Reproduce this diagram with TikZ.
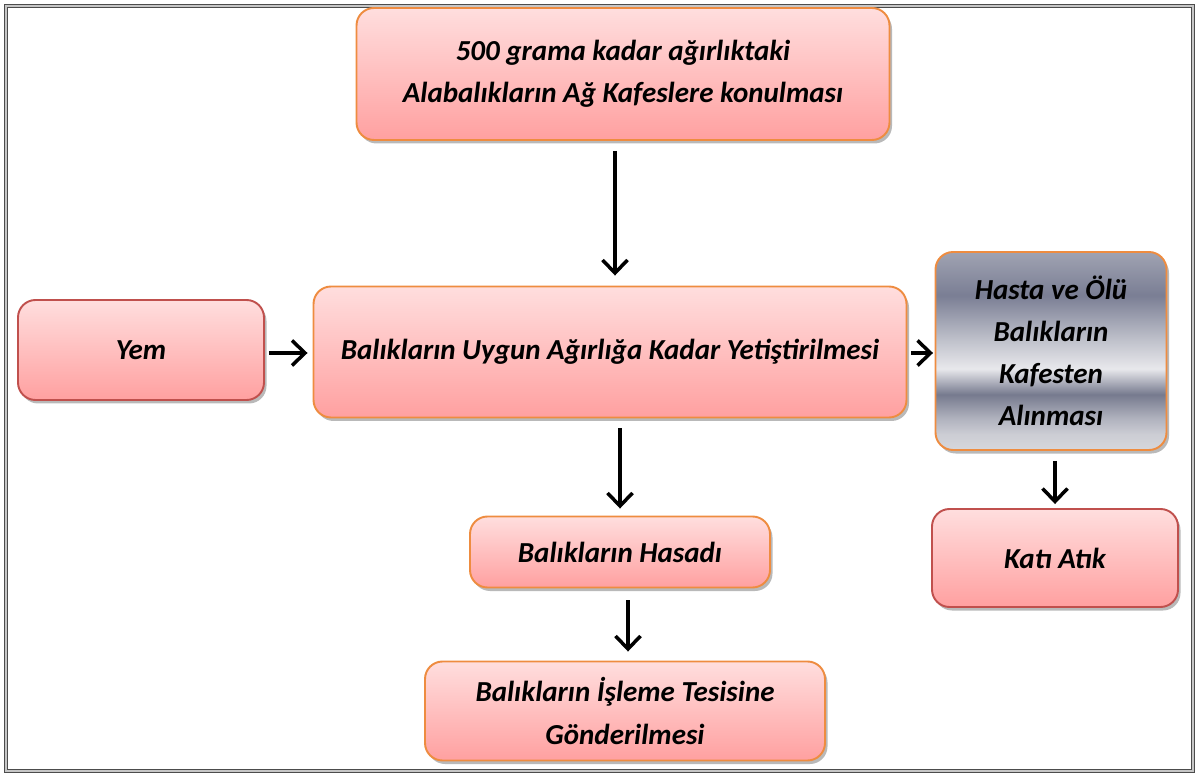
\documentclass[tikz,border=0pt]{standalone}
\usepackage{fontspec}
\setmainfont{Carlito}
\usetikzlibrary{arrows.meta,shadows}

\definecolor{kutuust}{RGB}{255,222,222}
\definecolor{kutualt}{RGB}{255,160,160}
\definecolor{turuncu}{RGB}{238,140,64}
\definecolor{kirmizi}{RGB}{192,80,77}
\definecolor{metala}{RGB}{214,215,220}
\definecolor{metalb}{RGB}{204,205,212}
\definecolor{metalc}{RGB}{176,178,190}
\definecolor{metald}{RGB}{118,122,142}
\definecolor{metale}{RGB}{232,232,236}
\definecolor{metalf}{RGB}{190,192,202}
\definecolor{metalg}{RGB}{122,126,148}
\definecolor{metalh}{RGB}{160,163,178}
\pgfdeclareverticalshading{metal}{100bp}{color(0bp)=(metala); color(25bp)=(metala); color(29bp)=(metalb); color(33bp)=(metalc); color(39bp)=(metald); color(45.5bp)=(metale); color(53bp)=(metalf); color(64bp)=(metalg); color(75bp)=(metalh); color(100bp)=(metalh)}

\begin{document}
\begin{tikzpicture}[
    kutu/.style={draw=turuncu, line width=1.1pt, rounded corners=0.35cm,
        top color=kutuust, bottom color=kutualt, align=center,
        font=\fontsize{16.5}{24}\selectfont\bfseries\itshape,
        drop shadow={shadow xshift=0.05cm, shadow yshift=-0.07cm, fill=black!50, opacity=0.55}},
    kkutu/.style={kutu, draw=kirmizi},
    mkutu/.style={kutu, shading=metal},
    ok/.style={-{Straight Barb[length=2.6mm,width=5mm]}, line width=2pt}]
    \useasboundingbox (0,0) rectangle (23.96,-15.54);
    \draw[black!70, double=gray!45, double distance=1pt, line width=0.9pt] (0.12,-0.12) rectangle (23.86,-15.42); % cerceve

    \node[kutu, minimum width=10.66cm, minimum height=2.64cm] (kafes) at (12.46,-1.48) {500 grama kadar ağırlıktaki\\Alabalıkların Ağ Kafeslere konulması};
    \node[kkutu, minimum width=4.92cm, minimum height=2.0cm] (yem) at (2.82,-7.0) {Yem};
    \node[kutu, minimum width=11.86cm, minimum height=2.62cm] (yetistirme) at (12.2,-7.04) {Balıkların Uygun Ağırlığa Kadar Yetiştirilmesi};
    \node[mkutu, minimum width=4.62cm, minimum height=3.96cm] (hasta) at (21.02,-7.02) {Hasta ve Ölü\\Balıkların\\Kafesten\\Alınması};
    \node[kkutu, minimum width=4.92cm, minimum height=1.96cm] (atik) at (21.1,-11.16) {Katı Atık};
    \node[kutu, minimum width=6.0cm, minimum height=1.42cm] (hasat) at (12.4,-11.04) {Balıkların Hasadı};
    \node[kutu, minimum width=8.0cm, minimum height=1.98cm] (isleme) at (12.5,-14.22) {Balıkların İşleme Tesisine\\Gönderilmesi};

    \draw[ok, shorten <=0.2cm, shorten >=0.2cm] ([xshift=-0.16cm]kafes.south) -- ([xshift=-0.16cm]kafes.south |- yetistirme.north);
    \draw[ok, shorten <=0.08cm, shorten >=0.1cm] (yem.east |- 0,-7.06) -- (yetistirme.west |- 0,-7.06);
    \draw[ok, shorten <=0.08cm, shorten >=0.03cm] (yetistirme.east |- 0,-7.06) -- (hasta.west |- 0,-7.06);
    \draw[ok, shorten <=0.2cm, shorten >=0.14cm] (hasat.north |- yetistirme.south) -- (hasat.north);
    \draw[ok, shorten <=0.24cm, shorten >=0.18cm] ([xshift=0.16cm]hasat.south) -- ([xshift=0.16cm]hasat.south |- isleme.north);
    \draw[ok, shorten <=0.2cm, shorten >=0.08cm] (atik.north |- hasta.south) -- (atik.north);
\end{tikzpicture}
\end{document}
